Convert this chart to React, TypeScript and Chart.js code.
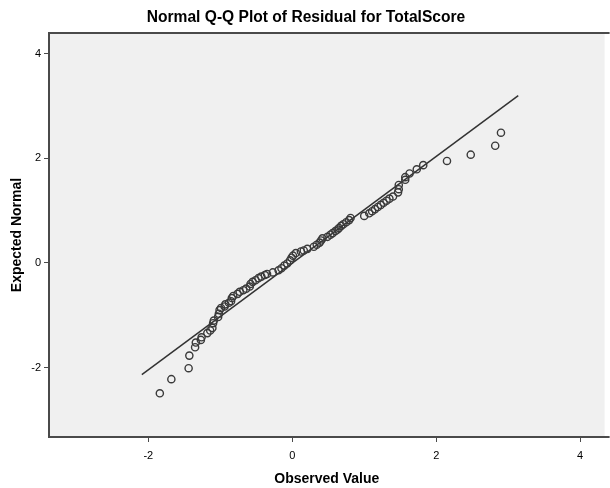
import React, { useEffect, useRef } from "react";
import { Chart, registerables } from "chart.js";

Chart.register(...registerables);

const chartTitle = "Normal Q-Q Plot of Residual for TotalScore";
const xAxisTitle = "Observed Value";
const yAxisTitle = "Expected Normal";

const xTickValues = [-2, 0, 2, 4];
const yTickValues = [-2, 0, 2, 4];

const observed = [
  -1.84, -1.68, -1.44, -1.43, -1.35, -1.34, -1.27, -1.26, -1.18, -1.14,
  -1.11, -1.1, -1.09, -1.03, -1.02, -1.01, -0.99, -0.94, -0.93, -0.88,
  -0.85, -0.84, -0.82, -0.76, -0.73, -0.68, -0.64, -0.59, -0.58, -0.55,
  -0.51, -0.47, -0.43, -0.38, -0.35, -0.27, -0.19, -0.15, -0.11, -0.07,
  -0.03, -0.01, 0.01, 0.05, 0.12, 0.16, 0.21, 0.3, 0.34, 0.38,
  0.4, 0.42, 0.49, 0.53, 0.56, 0.6, 0.63, 0.65, 0.68, 0.71,
  0.75, 0.79, 0.81, 1.0, 1.07, 1.11, 1.15, 1.19, 1.23, 1.27,
  1.31, 1.35, 1.4, 1.47, 1.48, 1.48, 1.57, 1.57, 1.63, 1.73,
  1.82, 2.15, 2.48, 2.82, 2.9,
];
const expected = [
  -2.49, -2.22, -2.01, -1.77, -1.61, -1.52, -1.47, -1.42, -1.34, -1.29,
  -1.24, -1.15, -1.1, -1.03, -0.97, -0.9, -0.86, -0.83, -0.79, -0.76,
  -0.73, -0.67, -0.63, -0.59, -0.55, -0.52, -0.49, -0.45, -0.4, -0.36,
  -0.33, -0.29, -0.26, -0.23, -0.21, -0.18, -0.14, -0.1, -0.05, -0.01,
  0.05, 0.1, 0.14, 0.19, 0.22, 0.24, 0.27, 0.31, 0.35, 0.39,
  0.43, 0.47, 0.5, 0.54, 0.57, 0.61, 0.64, 0.67, 0.71, 0.74,
  0.78, 0.82, 0.86, 0.9, 0.95, 0.99, 1.03, 1.07, 1.11, 1.15,
  1.19, 1.23, 1.27, 1.35, 1.41, 1.49, 1.59, 1.64, 1.71, 1.79,
  1.87, 1.95, 2.07, 2.24, 2.49,
];

// Reference line end points
const lineX = [-2.09, 3.14];
const lineY = [-2.135, 3.197];

const FRAME = "#4a4a4a";

const framePlugin = {
  id: "frameAndTitle",
  beforeDraw(chart: any) {
    const { ctx, chartArea } = chart;
    ctx.save();
    ctx.fillStyle = "#f0f0f0";
    ctx.fillRect(chartArea.left, chartArea.top, chartArea.right - chartArea.left, chartArea.bottom - chartArea.top);
    ctx.restore();
  },
  afterDraw(chart: any) {
    const { ctx, chartArea, width } = chart;
    ctx.save();
    ctx.strokeStyle = FRAME;
    ctx.lineWidth = 2;
    ctx.beginPath();
    ctx.moveTo(chartArea.right + 5, chartArea.top);
    ctx.lineTo(chartArea.left, chartArea.top);
    ctx.lineTo(chartArea.left, chartArea.bottom);
    ctx.lineTo(chartArea.right + 5, chartArea.bottom);
    ctx.stroke();
    ctx.fillStyle = "#000";
    ctx.font = "bold 15.6px Arial, 'Liberation Sans', sans-serif";
    ctx.textAlign = "center";
    ctx.textBaseline = "middle";
    ctx.fillText(chartTitle, width / 2 + 1, 18);
    ctx.restore();
  },
};

export default function App() {
  const ref = useRef<HTMLCanvasElement>(null);
  useEffect(() => {
    if (!ref.current) return;
    const points = observed.map((x, i) => ({ x, y: expected[i] }));
    const line = lineX.map((x, i) => ({ x, y: lineY[i] }));
    const tickFont = { family: "Arial, 'Liberation Sans', sans-serif", size: 11 };
    const titleFont = { family: "Arial, 'Liberation Sans', sans-serif", size: 14, weight: "bold" as const };
    const chart = new Chart(ref.current, {
      type: "scatter",
      data: {
        datasets: [
          {
            data: points,
            pointRadius: 3.6,
            pointBorderWidth: 1.4,
            pointBorderColor: "#3a3a3a",
            pointBackgroundColor: "rgba(0,0,0,0)",
            showLine: false,
          },
          {
            type: "line",
            data: line,
            borderColor: "#333",
            borderWidth: 1.5,
            pointRadius: 0,
            showLine: true,
            fill: false,
          } as any,
        ],
      },
      options: {
        animation: false,
        responsive: false,
        maintainAspectRatio: false,
        layout: { padding: { top: 33, left: 0, right: 0, bottom: 0 } },
        plugins: {
          legend: { display: false },
          tooltip: { enabled: false },
          title: { display: false },
        },
        scales: {
          x: {
            type: "linear",
            min: -3.38,
            max: 4.34,
            afterBuildTicks: (s: any) => {
              s.ticks = xTickValues.map((v) => ({ value: v }));
            },
            afterFit: (s: any) => {
              s.height = 51;
            },
            ticks: { font: tickFont, color: "#000", padding: 7, maxRotation: 0, autoSkip: false },
            grid: { drawOnChartArea: false, drawTicks: true, tickLength: 5, color: FRAME, lineWidth: 1 },
            border: { display: false },
            title: { display: true, text: xAxisTitle, font: titleFont, color: "#000", padding: { top: 0, bottom: 0 } },
          },
          y: {
            type: "linear",
            min: -3.325,
            max: 4.395,
            afterBuildTicks: (s: any) => {
              s.ticks = yTickValues.map((v) => ({ value: v }));
            },
            afterFit: (s: any) => {
              s.width = 49;
            },
            ticks: { font: tickFont, color: "#000", padding: 3, autoSkip: false },
            grid: { drawOnChartArea: false, drawTicks: true, tickLength: 5, color: FRAME, lineWidth: 1 },
            border: { display: false },
            title: { display: true, text: yAxisTitle, font: titleFont, color: "#000", padding: { top: 9, bottom: 0 } },
          },
        },
      },
      plugins: [framePlugin],
    });
    return () => chart.destroy();
  }, []);
  return (
    <div style={{ position: "fixed", left: 0, top: 0, width: 610, height: 488, background: "#fff" }}>
      <canvas ref={ref} width={610} height={488} style={{ display: "block" }} />
    </div>
  );
}
